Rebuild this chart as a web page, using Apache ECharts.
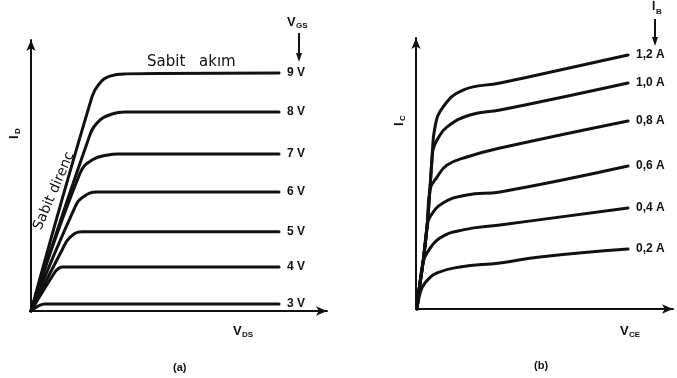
<!DOCTYPE html>
<html>
<head>
<meta charset="utf-8">
<script src="https://cdn.jsdelivr.net/npm/echarts@6/dist/echarts.min.js"></script>
<style>
  html, body { margin: 0; padding: 0; background: #fff; }
  #chart { width: 677px; height: 378px; }
</style>
</head>
<body>
<div id="chart"></div>
<script>
// (a) FET output characteristics: I_D vs V_DS for several V_GS (normalised units 0..100)
const fetLabels = ['9 V', '8 V', '7 V', '6 V', '5 V', '4 V', '3 V'];
const fet9V = [[0, 0], [20.6, 79.0], [23.0, 83.8], [26.7, 86.7], [31.8, 87.5], [83.8, 87.8]];
const fet8V = [[0, 0], [19.3, 63.1], [22.3, 69.4], [27.4, 72.7], [31.8, 73.4], [83.8, 73.4]];
const fet7V = [[0, 0], [16.6, 50.9], [20.6, 55.7], [26.0, 57.6], [29.4, 57.9], [83.8, 57.9]];
const fet6V = [[0, 0], [14.9, 38.4], [17.6, 42.1], [22.3, 43.9], [83.8, 43.9]];
const fet5V = [[0, 0], [10.5, 22.5], [13.0, 27.0], [17.2, 29.2], [83.8, 29.2]];
const fet4V = [[0, 0], [8.1, 14.4], [9.1, 15.5], [10.5, 16.2], [83.8, 16.2]];
const fet3V = [[0, 0], [2.4, 1.8], [4.7, 2.6], [83.8, 2.6]];
const fetCurves = [fet9V, fet8V, fet7V, fet6V, fet5V, fet4V, fet3V];

// (b) BJT output characteristics: I_C vs V_CE for several I_B (normalised units 0..100)
const bjtLabels = ['1,2 A', '1,0 A', '0,8 A', '0,6 A', '0,4 A', '0,2 A'];
const bjt12 = [[0.4, 0], [1.2, 7.0], [2.7, 17.0], [4.3, 30.3], [5.4, 43.9], [6.2, 55.0], [7.4, 67.2], [10.5, 74.5], [18.3, 80.8], [32.7, 83.4], [82.5, 93.7]];
const bjt10 = [[0.4, 0], [1.2, 7.0], [2.7, 17.0], [4.3, 30.3], [5.4, 43.9], [6.2, 55.0], [6.6, 58.7], [8.2, 62.4], [12.1, 67.2], [21.0, 71.6], [32.7, 73.4], [82.5, 83.4]];
const bjt08 = [[0.4, 0], [1.2, 7.0], [2.7, 17.0], [4.3, 30.3], [5.4, 43.9], [8.2, 48.7], [12.1, 53.1], [19.8, 56.1], [32.7, 59.4], [82.5, 69.4]];
const bjt06 = [[0.4, 0], [1.2, 7.0], [2.7, 17.0], [4.3, 30.3], [5.4, 33.9], [10.5, 39.1], [19.8, 42.1], [32.7, 43.2], [82.5, 52.8]];
const bjt04 = [[0.4, 0], [1.2, 7.0], [2.7, 17.0], [4.3, 20.7], [9.3, 26.2], [18.3, 29.2], [32.7, 31.0], [82.5, 37.3]];
const bjt02 = [[0.4, 0], [1.6, 5.9], [3.5, 9.6], [8.2, 13.3], [17.1, 15.5], [32.7, 17.0], [48.2, 19.2], [82.5, 22.1]];
const bjtCurves = [bjt12, bjt10, bjt08, bjt06, bjt04, bjt02];

const INK = '#111';
const FONT = '"Liberation Sans", Arial, sans-serif';
const NOTE_FONT = '"DejaVu Sans", sans-serif';

function arrowAxis(gridIndex) {
  return {
    type: 'value', gridIndex, min: 0, max: 100,
    axisLine: { show: true, lineStyle: { color: INK, width: 2 }, symbol: ['none', 'arrow'], symbolSize: [7, 11] },
    axisTick: { show: false }, axisLabel: { show: false }, splitLine: { show: false }
  };
}

function curve(data, label, xi) {
  return {
    type: 'line', xAxisIndex: xi, yAxisIndex: xi, data,
    smooth: 0.45, showSymbol: false, silent: true,
    lineStyle: { color: INK, width: 3, join: 'round', cap: 'round' },
    endLabel: { show: true, formatter: label, distance: 8, color: INK, fontFamily: FONT, fontWeight: 'bold', fontSize: 12 }
  };
}

function txt(x, y, s, size, weight, family) {
  return {
    type: 'text', x, y,
    style: { text: s, fill: INK, font: (weight || 'bold') + ' ' + size + 'px ' + (family || FONT), textAlign: 'left', textVerticalAlign: 'middle' }
  };
}

function subLabel(x, y, main, sub) {
  return [txt(x, y, main, 13), txt(x + 9, y + 4, sub, 8)];
}

function downArrow(x, y1, y2) {
  return [
    { type: 'line', shape: { x1: x, y1, x2: x, y2: y2 - 6 }, style: { stroke: INK, lineWidth: 2 } },
    { type: 'polygon', shape: { points: [[x - 3, y2 - 9], [x + 3, y2 - 9], [x, y2]] }, style: { fill: INK } }
  ];
}

function rotatedLabel(cx, cy, angle, children) {
  return { type: 'group', x: cx, y: cy, rotation: angle, children };
}

const chart = echarts.init(document.getElementById('chart'), null, { renderer: 'canvas' });
chart.setOption({
  backgroundColor: '#fff',
  animation: false,
  grid: [
    { left: 31, top: 40, width: 296, height: 271 },
    { left: 416, top: 38, width: 257, height: 271 }
  ],
  xAxis: [arrowAxis(0), arrowAxis(1)],
  yAxis: [arrowAxis(0), arrowAxis(1)],
  series: [
    ...fetCurves.map((d, i) => curve(d, fetLabels[i], 0)),
    ...bjtCurves.map((d, i) => curve(d, bjtLabels[i], 1))
  ],
  graphic: [
    // V_GS with arrow
    ...subLabel(287, 22, 'V', 'GS'),
    ...downArrow(299, 33, 62),
    // I_B with arrow
    txt(652, 7, 'I', 12),
    txt(656, 12, 'B', 8),
    ...downArrow(655, 19, 46),
    // region annotations
    txt(147, 62, 'Sabit', 15, 'normal', NOTE_FONT),
    txt(199, 62, 'akım', 15, 'normal', NOTE_FONT),
    rotatedLabel(54, 191, 1.164, [{ type: 'text', x: 0, y: 0, style: { text: 'Sabit direnç', fill: INK, font: 'normal 14px ' + NOTE_FONT, textAlign: 'center', textVerticalAlign: 'middle' } }]),
    // axis titles
    rotatedLabel(14, 134, Math.PI / 2, [txt(-5, 0, 'I', 13), txt(0, 4, 'D', 8)]),
    rotatedLabel(399, 121, Math.PI / 2, [txt(-5, 0, 'I', 13), txt(0, 4, 'C', 8)]),
    ...subLabel(233, 331, 'V', 'DS'),
    ...subLabel(620, 331, 'V', 'CE'),
    // panel captions
    txt(173, 368, '(a)', 11),
    txt(534, 366, '(b)', 11)
  ]
});
</script>
</body>
</html>
